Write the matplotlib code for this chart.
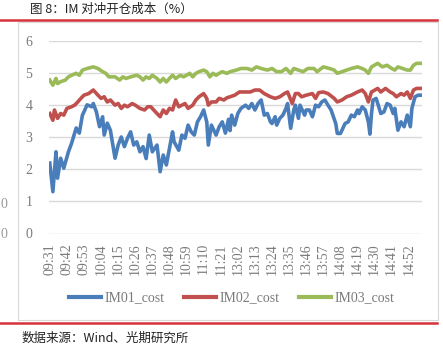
import matplotlib.pyplot as plt
from matplotlib.lines import Line2D
from matplotlib.patches import Rectangle

plt.rcParams['font.family'] = ['Liberation Serif', 'Noto Sans CJK SC', 'DejaVu Sans']

# minute index in the trading session (0 = 09:31, 120 = 13:01)
im01_idx = [0, 2, 4, 5, 7, 9, 12, 14, 16, 17, 19, 21, 22, 24, 27, 28, 30, 32, 34, 35,
            37, 39, 42, 44, 46, 48, 50, 52, 54, 56, 58, 60, 62, 64, 66, 69, 71, 73, 75, 77,
            79, 80, 83, 85, 87, 89, 91, 93, 95, 97, 99, 101, 102, 104, 107, 109, 111, 113, 115, 116,
            117, 119, 121, 123, 126, 128, 130, 132, 134, 136, 138, 140, 142, 143, 145, 146, 148, 150, 152, 153,
            155, 157, 158, 160, 161, 164, 165, 167, 169, 171, 173, 175, 177, 179, 181, 184, 185, 187, 188, 190,
            192, 194, 196, 198, 199, 201, 203, 205, 206, 207, 208, 210, 212, 213, 215, 217, 219, 221, 222, 224,
            226, 228, 230, 232, 233, 235, 237, 239]
im01_val = [2.19, 1.30, 2.54, 1.72, 2.34, 2.03, 2.54, 2.80, 3.12, 3.28, 3.12, 3.68, 3.78, 4.00, 3.94, 4.04, 3.78, 3.32, 3.63, 3.06,
            3.43, 3.21, 2.34, 2.75, 3.00, 2.70, 2.96, 3.16, 2.75, 2.85, 2.54, 2.70, 2.33, 3.06, 2.54, 2.75, 1.92, 2.44, 2.13, 2.65,
            3.16, 2.85, 2.59, 3.06, 2.96, 3.37, 3.16, 3.06, 3.47, 3.63, 3.84, 3.47, 2.75, 3.37, 3.06, 3.32, 3.47, 3.12, 3.55, 3.20,
            3.68, 3.37, 3.73, 3.89, 3.99, 3.89, 4.04, 3.84, 4.04, 4.15, 3.68, 3.73, 3.47, 3.42, 3.63, 3.37, 3.58, 3.68, 3.89, 4.04,
            3.27, 3.84, 3.99, 3.58, 3.99, 3.68, 3.84, 3.84, 3.63, 3.99, 3.94, 4.09, 4.15, 3.99, 3.84, 3.42, 3.11, 3.11, 3.21, 3.42,
            3.47, 3.68, 3.63, 3.84, 3.73, 3.94, 3.84, 3.47, 3.09, 3.73, 4.15, 4.20, 3.89, 3.73, 3.78, 4.04, 3.99, 3.73, 3.89, 3.21,
            3.47, 3.32, 3.68, 3.32, 3.89, 4.25, 4.30, 4.30]

im02_idx = [0, 2, 3, 5, 7, 9, 11, 14, 16, 18, 20, 22, 25, 28, 31, 33, 35, 37, 39, 42,
            44, 46, 48, 50, 53, 55, 58, 61, 63, 65, 68, 71, 73, 75, 77, 79, 81, 83, 85, 87,
            89, 92, 94, 96, 99, 101, 102, 104, 107, 109, 112, 114, 116, 119, 122, 126, 129, 132, 135, 138,
            142, 145, 148, 151, 153, 156, 158, 160, 162, 165, 169, 171, 173, 176, 179, 183, 185, 188, 191, 194,
            198, 201, 203, 205, 207, 211, 213, 216, 219, 221, 223, 226, 228, 230, 232, 234, 236, 239]
im02_val = [3.73, 3.52, 3.84, 3.58, 3.73, 3.68, 3.89, 3.94, 3.99, 4.09, 4.20, 4.30, 4.35, 4.46, 4.30, 4.20, 4.25, 4.09, 4.15, 3.99,
            4.04, 3.89, 3.99, 3.94, 4.04, 3.99, 3.89, 3.84, 3.94, 3.94, 3.78, 3.63, 3.84, 3.73, 3.89, 3.84, 4.15, 3.94, 3.99, 4.04,
            3.89, 3.99, 4.15, 4.25, 4.35, 4.20, 3.99, 4.09, 4.09, 4.20, 4.15, 4.22, 4.25, 4.30, 4.40, 4.40, 4.40, 4.46, 4.46, 4.35,
            4.25, 4.20, 4.25, 4.35, 4.40, 4.04, 4.35, 4.35, 4.25, 4.30, 4.35, 4.20, 4.38, 4.40, 4.35, 4.20, 4.09, 4.15, 4.25, 4.30,
            4.40, 4.46, 4.35, 4.09, 4.40, 4.51, 4.40, 4.51, 4.40, 4.35, 4.25, 4.35, 4.30, 4.40, 4.20, 4.46, 4.51, 4.51]

im03_idx = [0, 2, 4, 5, 7, 10, 12, 14, 17, 19, 21, 24, 28, 31, 34, 36, 38, 42, 45, 47,
            49, 52, 56, 58, 60, 62, 64, 66, 69, 71, 73, 75, 77, 79, 81, 84, 86, 88, 90, 92,
            94, 96, 99, 101, 103, 105, 107, 109, 111, 114, 116, 120, 123, 127, 130, 133, 136, 140, 143, 146,
            149, 152, 155, 157, 160, 163, 166, 170, 172, 176, 180, 183, 185, 188, 191, 194, 198, 201, 203, 205,
            207, 211, 214, 217, 220, 222, 224, 227, 230, 232, 234, 236, 239]
im03_val = [4.77, 4.61, 4.82, 4.66, 4.72, 4.77, 4.87, 4.92, 4.98, 4.92, 5.08, 5.13, 5.18, 5.13, 5.03, 4.98, 4.87, 4.87, 4.77, 4.87,
            4.82, 4.87, 4.92, 4.87, 4.77, 4.87, 4.82, 4.92, 4.82, 4.71, 4.82, 4.71, 4.82, 4.92, 4.82, 4.92, 4.87, 4.92, 4.98, 4.87,
            4.98, 5.03, 5.08, 5.03, 4.87, 4.98, 4.92, 4.98, 5.03, 4.98, 5.03, 5.08, 5.13, 5.13, 5.08, 5.18, 5.13, 5.08, 5.13, 5.03,
            5.03, 5.13, 4.98, 5.13, 5.08, 5.03, 5.13, 5.13, 5.03, 5.18, 5.13, 5.08, 4.98, 5.03, 5.08, 5.13, 5.18, 5.13, 5.08, 4.98,
            5.18, 5.29, 5.18, 5.23, 5.13, 5.08, 5.18, 5.13, 5.08, 5.08, 5.23, 5.29, 5.29]

tick_labels = ['09:31', '09:42', '09:53', '10:04', '10:15', '10:26', '10:37', '10:48',
               '10:59', '11:10', '11:21', '13:02', '13:13', '13:24', '13:35', '13:46',
               '13:57', '14:08', '14:19', '14:30', '14:41', '14:52']
series_names = ['IM01_cost', 'IM02_cost', 'IM03_cost']
colors = ['#4a7ebb', '#c0504d', '#9bbb59']
grey = '#7a7a7a'

fig = plt.figure(figsize=(4.43, 3.53), dpi=100)

# outer frame of the chart box
fig.patches.append(Rectangle((18 / 443, 1 - 320 / 353), 420 / 443, 298 / 353,
                             transform=fig.transFigure, fill=False,
                             edgecolor='#d9d9d9', linewidth=0.8))

# red rules above and below
fig.add_artist(Line2D([0, 437 / 443], [1 - 20 / 353] * 2, color='#d6333b', lw=1.8))
fig.add_artist(Line2D([0, 437 / 443], [1 - 323 / 353] * 2, color='#d6333b', lw=1.8))

fig.text(30 / 443, 1 - 9 / 353, '图 8：IM 对冲开仓成本（%）', fontsize=9,
         va='center', ha='left', family=['Noto Sans CJK SC', 'DejaVu Sans'], color='#222222')
fig.text(22 / 443, 1 - 338 / 353, '数据来源：Wind、光期研究所', fontsize=9,
         va='center', ha='left', family=['Noto Sans CJK SC', 'DejaVu Sans'], color='#222222')

# leftovers of the neighbouring chart at the left edge
fig.text(0.5 / 443, 1 - 204 / 353, '0', fontsize=10, ha='left', va='center', color='#999999')
fig.text(0.5 / 443, 1 - 235 / 353, '0', fontsize=10, ha='left', va='center', color='#999999')

ax = fig.add_axes([49 / 443, 1 - 233.5 / 353, 373 / 443, 193 / 353])

for idx, val, c, name in zip([im01_idx, im02_idx, im03_idx],
                             [im01_val, im02_val, im03_val], colors, series_names):
    ax.plot(idx, val, color=c, lw=2.6, label=name, solid_joinstyle='round')

ax.set_xlim(-0.5, 239.5)
ax.set_ylim(0, 6)
ax.set_yticks(range(0, 7))
ax.set_xticks([i * 11 for i in range(len(tick_labels))])
ax.set_xticklabels(tick_labels, rotation=90)
ax.tick_params(axis='both', length=0, labelsize=10, labelcolor=grey)
ax.tick_params(axis='x', pad=7)
ax.tick_params(axis='y', pad=12)
ax.grid(axis='y', color='#d9d9d9', lw=1)
ax.set_axisbelow(True)
for s in ax.spines.values():
    s.set_visible(False)

leg = fig.legend(loc='center', bbox_to_anchor=(232 / 443, 1 - 298 / 353), ncol=3,
                 frameon=False, fontsize=10, handlelength=2.3, handletextpad=0.25,
                 columnspacing=1.4, labelcolor=grey)
for h in leg.get_lines():
    h.set_linewidth(3)

fig.savefig('out.png', dpi=100)
